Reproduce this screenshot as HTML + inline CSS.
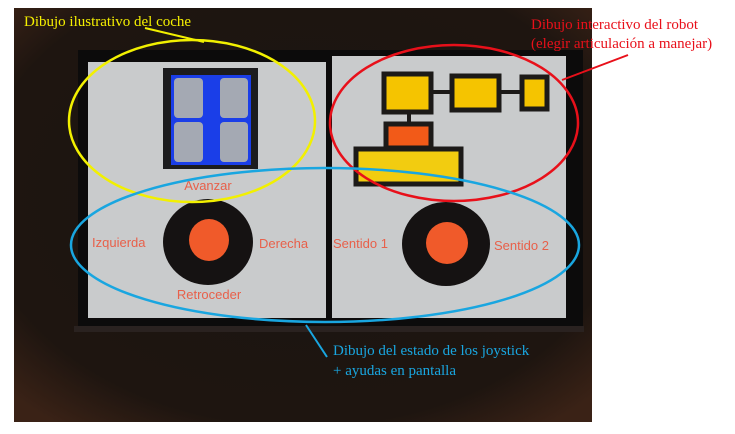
<!DOCTYPE html>
<html><head><meta charset="utf-8"><style>
body{margin:0;background:#fff;width:735px;height:434px;overflow:hidden}
svg{display:block}
text{font-family:"Liberation Serif",serif}
.s{font-family:"Liberation Sans",sans-serif;font-size:13px;fill:#e8604a}
</style></head><body>
<svg width="735" height="434">
<defs><radialGradient id="bg" cx="50%" cy="45%" r="70%"><stop offset="0" stop-color="#1a1512"/><stop offset="0.8" stop-color="#1e1510"/><stop offset="1" stop-color="#3a2216"/></radialGradient></defs>
<rect x="14" y="8" width="578" height="414" fill="url(#bg)"/>
<rect x="78" y="50" width="505" height="278" fill="#0c0b0b"/>
<rect x="74" y="326" width="510" height="6" fill="#2a2220"/>
<rect x="88" y="62" width="238" height="256" fill="#c9cbcc"/>
<rect x="332" y="56" width="234" height="262" fill="#c9cbcc"/>
<!-- car -->
<g>
<rect x="163" y="68" width="95" height="101" fill="#1c1c1e"/>
<rect x="171" y="75" width="80" height="90" fill="#1a3ee8"/>
<rect x="174" y="78" width="29" height="40" rx="4" fill="#a4a9b3"/>
<rect x="220" y="78" width="28" height="40" rx="4" fill="#a4a9b3"/>
<rect x="174" y="122" width="29" height="40" rx="4" fill="#a4a9b3"/>
<rect x="220" y="122" width="28" height="40" rx="4" fill="#a4a9b3"/>
</g>
<text class="s" x="208" y="190" text-anchor="middle">Avanzar</text>
<text class="s" x="92" y="247">Izquierda</text>
<text class="s" x="259" y="248">Derecha</text>
<text class="s" x="209" y="299" text-anchor="middle">Retroceder</text>
<text class="s" x="333" y="248">Sentido 1</text>
<text class="s" x="494" y="250">Sentido 2</text>
<ellipse cx="208" cy="242" rx="45" ry="43" fill="#151212"/>
<ellipse cx="209" cy="240" rx="20" ry="21" fill="#f05a2a"/>
<ellipse cx="446" cy="244" rx="44" ry="42" fill="#151212"/>
<ellipse cx="447" cy="243" rx="21" ry="21" fill="#f05a2a"/>
<!-- robot -->
<g stroke="#1c1a18">
<line x1="430" y1="92" x2="452" y2="92" stroke-width="4"/>
<line x1="498" y1="92" x2="522" y2="92" stroke-width="4"/>
<line x1="409" y1="112" x2="409" y2="124" stroke-width="4"/>
<rect x="384" y="74" width="47" height="38" fill="#f5c400" stroke-width="5"/>
<rect x="452" y="76" width="47" height="34" fill="#f5c400" stroke-width="5"/>
<rect x="522" y="77" width="25" height="32" fill="#f5c400" stroke-width="5"/>
<rect x="386" y="124" width="45" height="24" fill="#f25a18" stroke-width="5"/>
<rect x="356" y="149" width="105" height="35" fill="#f2cc10" stroke-width="5"/>
</g>
<rect x="326" y="52" width="5" height="270" fill="#0c0b0b"/>
<!-- annotations -->
<ellipse cx="192" cy="121" rx="123" ry="81" fill="none" stroke="#f2f000" stroke-width="2.5"/>
<ellipse cx="454" cy="123" rx="124" ry="78" fill="none" stroke="#e8101a" stroke-width="2.5"/>
<ellipse cx="325" cy="245" rx="254" ry="77" fill="none" stroke="#19a6e0" stroke-width="2.5"/>
<line x1="145" y1="28" x2="204" y2="42" stroke="#f2f000" stroke-width="2"/>
<line x1="628" y1="55" x2="562" y2="80" stroke="#e8101a" stroke-width="2"/>
<line x1="306" y1="325" x2="327" y2="357" stroke="#19a6e0" stroke-width="2"/>
<text x="24" y="26" font-size="15" fill="#f5f000">Dibujo ilustrativo del coche</text>
<text x="531" y="29" font-size="15" fill="#e8101a">Dibujo interactivo del robot</text>
<text x="531" y="48" font-size="15" fill="#e8101a">(elegir articulación a manejar)</text>
<text x="333" y="355" font-size="15" fill="#19a6e0">Dibujo del estado de los joystick</text>
<text x="333" y="375" font-size="15" fill="#19a6e0">+ ayudas en pantalla</text>
</svg>
</body></html>
